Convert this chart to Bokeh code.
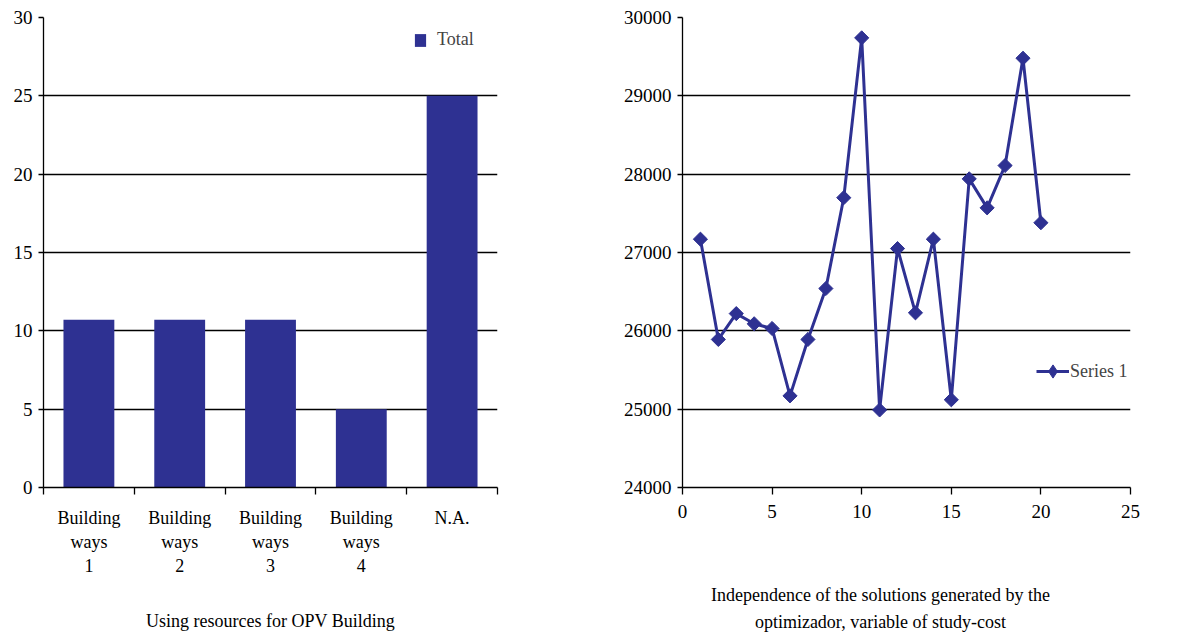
from bokeh.plotting import figure
from bokeh.layouts import row, column
from bokeh.models import (Range1d, FixedTicker, Legend, LegendItem, Label)
from bokeh.embed import file_html
from bokeh.resources import INLINE
import math

# ---------------- data ----------------
categories = ["Building\nways\n1", "Building\nways\n2", "Building\nways\n3", "Building\nways\n4", "N.A."]
totals = [10.7, 10.7, 10.7, 5, 25]
bar_ticks = [0, 5, 10, 15, 20, 25, 30]

series_x = list(range(1, 21))
series_y = [27170, 25890, 26220, 26090, 26030, 25170, 25890, 26540, 27700, 29740,
            24990, 27050, 26230, 27170, 25120, 27940, 27570, 28110, 29480, 27380]
line_xticks = [0, 5, 10, 15, 20, 25]
line_yticks = [24000, 25000, 26000, 27000, 28000, 29000, 30000]

left_title = "Using resources for OPV Building"
right_title = "Independence of the solutions generated by the\noptimizador, variable of study-cost"

BLUE = "#2E3192"
FONT = "Liberation Serif"
TXT = "18px"
NUM = "19px"

def style_common(p):
    p.outline_line_color = None
    p.background_fill_color = "white"
    p.border_fill_color = "white"
    p.xgrid.grid_line_color = None
    p.ygrid.grid_line_color = "black"
    p.ygrid.grid_line_width = 1.3
    for ax in p.axis:
        ax.axis_line_color = "black"
        ax.axis_line_width = 1.3
        ax.major_tick_line_color = "black"
        ax.major_tick_line_width = 1.3
        ax.minor_tick_line_color = "black"
        ax.minor_tick_line_width = 1.3
        ax.major_label_text_font = FONT
        ax.major_label_text_color = "black"
    p.yaxis.major_tick_in = 0
    p.yaxis.major_tick_out = 5
    p.yaxis.minor_tick_in = 0
    p.yaxis.minor_tick_out = 0
    p.yaxis.major_label_text_font_size = NUM
    p.yaxis.major_label_standoff = 6

# ---------------- left: bar chart ----------------
n = len(categories)
centers = [i + 0.5 for i in range(n)]
p1 = figure(frame_width=454, frame_height=470, output_backend="svg", toolbar_location=None,
            x_range=Range1d(0, n), y_range=Range1d(0, 30),
            min_border_left=43, min_border_right=103, min_border_top=17, min_border_bottom=93)
bars = p1.vbar(x=centers, top=totals, width=0.56, color=BLUE, line_color=None)
style_common(p1)
p1.yaxis.ticker = FixedTicker(ticks=bar_ticks)
p1.xaxis.ticker = FixedTicker(ticks=centers, minor_ticks=list(range(n + 1)))
p1.xaxis.major_label_overrides = {c: lab for c, lab in zip(centers, categories)}
p1.xaxis.major_tick_in = 0
p1.xaxis.major_tick_out = 0
p1.xaxis.minor_tick_in = 0
p1.xaxis.minor_tick_out = 7
p1.xaxis.major_label_text_font_size = TXT
p1.xaxis.major_label_standoff = 13

leg1 = Legend(items=[LegendItem(label="Total", renderers=[bars])], location=(370, 437),
              glyph_width=14, glyph_height=16, label_standoff=10, padding=0, margin=0,
              spacing=0, border_line_color=None, background_fill_alpha=0,
              label_text_font=FONT, label_text_font_size=TXT)
p1.add_layout(leg1)

# ---------------- right: line chart ----------------
p2 = figure(frame_width=448, frame_height=470, output_backend="svg", toolbar_location=None,
            x_range=Range1d(0, 25), y_range=Range1d(24000, 30000),
            min_border_left=82, min_border_right=50, min_border_top=17, min_border_bottom=93)
ln = p2.line(series_x, series_y, line_color=BLUE, line_width=3)
# diamond-shaped markers (drawn beneath the rotated squares; used for the legend swatch)
dm = p2.scatter(series_x, series_y, marker="diamond", size=10, fill_color=BLUE, line_color=BLUE)
mk = p2.scatter(series_x, series_y, marker="square", angle=math.pi / 4, size=10,
                fill_color=BLUE, line_color=BLUE)
style_common(p2)
p2.yaxis.ticker = FixedTicker(ticks=line_yticks)
p2.xaxis.ticker = FixedTicker(ticks=line_xticks)
p2.xaxis.major_tick_in = 0
p2.xaxis.major_tick_out = 7
p2.xaxis.minor_tick_out = 0
p2.xaxis.minor_tick_in = 0
p2.xaxis.major_label_text_font_size = NUM
p2.xaxis.major_label_standoff = 10

leg2 = Legend(items=[LegendItem(label="Series 1", renderers=[ln, dm])], location=(354, 99),
              glyph_width=33, glyph_height=34, label_standoff=1, padding=0, margin=0,
              spacing=0, border_line_color=None, background_fill_alpha=0,
              label_text_font=FONT, label_text_font_size=TXT)
p2.add_layout(leg2)

# ---------------- caption strip (chart titles below the charts) ----------------
p3 = figure(width=1180, height=53, output_backend="svg", toolbar_location=None,
            x_axis_type=None, y_axis_type=None, min_border=0,
            x_range=Range1d(0, 1), y_range=Range1d(0, 1))
p3.outline_line_color = None
p3.grid.visible = False
p3.add_layout(Label(x=270, y=13, x_units="screen", y_units="screen", text=left_title,
                    text_align="center", text_baseline="middle", text_font=FONT,
                    text_font_size=TXT, text_color="black"))
p3.add_layout(Label(x=880, y=25.5, x_units="screen", y_units="screen", text=right_title,
                    text_align="center", text_baseline="middle", text_font=FONT,
                    text_font_size=TXT, text_color="black", text_line_height=1.35))

layout = column(row(p1, p2), p3)
open("out.html", "w").write(file_html(layout, INLINE))
